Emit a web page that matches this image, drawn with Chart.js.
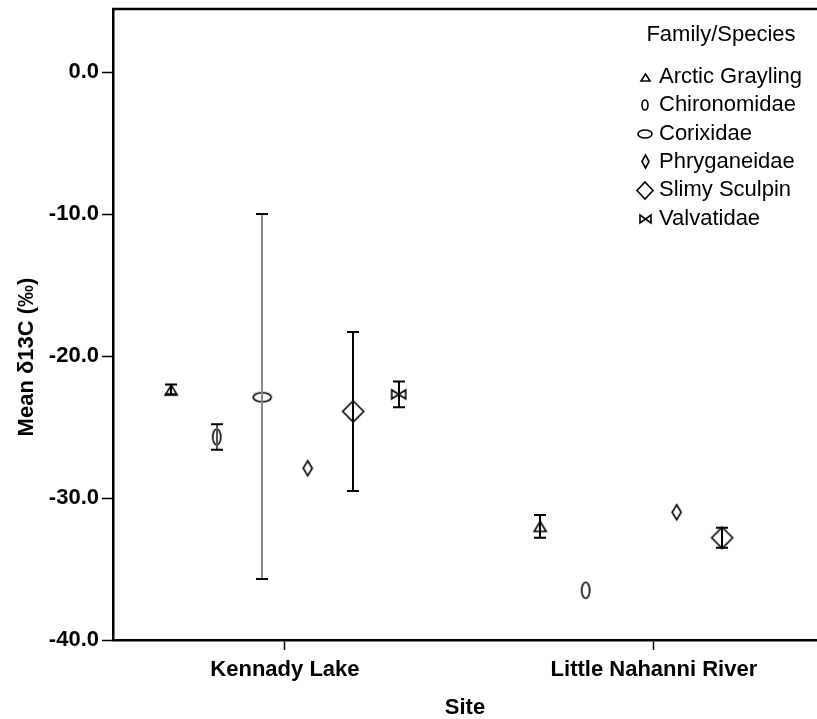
<!DOCTYPE html>
<html>
<head>
<meta charset="utf-8">
<title>Mean δ13C por local</title>
<script src="https://cdn.jsdelivr.net/npm/chart.js@4.4.1/dist/chart.umd.min.js"></script>
<style>
    body { margin: 0; background: #fff; }
    #grafico { display: block; background: #fff; }
</style>
</head>
<body>
<canvas id="grafico" width="817" height="719"></canvas>
<script>
/* ===== DADOS ===== */

const sites = ['Kennady Lake', 'Little Nahanni River'];
const species = ['Arctic Grayling', 'Chironomidae', 'Corixidae', 'Phryganeidae', 'Slimy Sculpin', 'Valvatidae'];

// média e IC 95% por espécie (null = sem amostra / sem barra)
const kennadyMean = [-22.4, -25.7, -22.9, -27.9, -23.9, -22.7];
const kennadyLow  = [-22.7, -26.6, -35.7, null, -29.5, -23.6];
const kennadyHigh = [-22.0, -24.8, -10.0, null, -18.3, -21.8];

const nahanniMean = [-32.0, -36.5, null, -31.0, -32.8, null];
const nahanniLow  = [-32.8, null, null, null, -33.5, null];
const nahanniHigh = [-31.2, null, null, null, -32.1, null];

const yTicks = [-40, -30, -20, -10, 0];
const yTitulo = 'Mean δ13C (‰)';

/* ===== ESTILO ===== */

const FONTE = "'Liberation Sans', Arial, sans-serif";
const formas = ['triangle', 'ellipse', 'ellipse', 'diamond', 'diamond', 'bowtie'];
const tamGrafico = [[12, 10], [8, 16], [18, 9], [9, 15], [21, 21], [14, 9]];
const tamLegenda = [[9, 7], [6, 10], [14, 8], [7, 13], [16, 17], [11, 8]];
const corHaste = ['#000', '#555', '#888', '#000', '#000', '#000'];
const deslocamento = 0.1233; // distância entre espécies dentro do mesmo local

function desenharForma(ctx, forma, w, h) {
    ctx.beginPath();
    if (forma === 'triangle') {
        ctx.moveTo(0, -h / 2);
        ctx.lineTo(w / 2, h / 2);
        ctx.lineTo(-w / 2, h / 2);
        ctx.closePath();
    } else if (forma === 'ellipse') {
        ctx.ellipse(0, 0, w / 2, h / 2, 0, 0, Math.PI * 2);
    } else if (forma === 'diamond') {
        ctx.moveTo(0, -h / 2);
        ctx.lineTo(w / 2, 0);
        ctx.lineTo(0, h / 2);
        ctx.lineTo(-w / 2, 0);
        ctx.closePath();
    } else if (forma === 'bowtie') {
        ctx.moveTo(-w / 2, -h / 2);
        ctx.lineTo(w / 2, h / 2);
        ctx.lineTo(w / 2, -h / 2);
        ctx.lineTo(-w / 2, h / 2);
        ctx.closePath();
    }
    ctx.stroke();
}

function criarMarcador(forma, w, h) {
    const c = document.createElement('canvas');
    c.width = Math.ceil(w) + 4;
    c.height = Math.ceil(h) + 4;
    const ctx = c.getContext('2d');
    ctx.translate(c.width / 2, c.height / 2);
    ctx.lineWidth = 1.6;
    ctx.strokeStyle = '#000';
    desenharForma(ctx, forma, w, h);
    return c;
}

const marcadores = formas.map((f, i) => criarMarcador(f, tamGrafico[i][0], tamGrafico[i][1]));
const marcadoresLegenda = formas.map((f, i) => criarMarcador(f, tamLegenda[i][0], tamLegenda[i][1]));

/* ===== DATASETS ===== */

const medias = [kennadyMean, nahanniMean];
const minimos = [kennadyLow, nahanniLow];
const maximos = [kennadyHigh, nahanniHigh];

const datasets = species.map((nome, i) => {
    const pontos = [];
    sites.forEach((_, s) => {
        if (medias[s][i] === null) return;
        pontos.push({
            x: s + (i - (species.length - 1) / 2) * deslocamento,
            y: medias[s][i],
            lo: minimos[s][i],
            hi: maximos[s][i]
        });
    });
    return {
        label: nome,
        data: pontos,
        pointStyle: marcadores[i],
        pointRadius: 8,
        showLine: false
    };
});

/* ===== PLUGINS ===== */

// linha superior da moldura + título do eixo Y
const moldura = {
    id: 'moldura',
    afterDraw(chart) {
        const { ctx, chartArea } = chart;
        ctx.save();
        ctx.strokeStyle = '#000';
        ctx.lineWidth = 2.5;
        ctx.beginPath();
        ctx.moveTo(chartArea.left - 1, chartArea.top);
        ctx.lineTo(chartArea.right, chartArea.top);
        ctx.stroke();

        ctx.translate(27, 357);
        ctx.rotate(-Math.PI / 2);
        ctx.fillStyle = '#000';
        ctx.font = `bold 22px ${FONTE}`;
        ctx.textAlign = 'center';
        ctx.textBaseline = 'middle';
        ctx.fillText(yTitulo, 0, 0);
        ctx.restore();
    }
};

// barras de erro (IC 95%)
const barrasErro = {
    id: 'barrasErro',
    afterDatasetsDraw(chart) {
        const { ctx } = chart;
        const escalaY = chart.scales.y;
        ctx.save();
        chart.data.datasets.forEach((ds, i) => {
            const meta = chart.getDatasetMeta(i);
            ds.data.forEach((p, j) => {
                if (p.lo === null || p.hi === null) return;
                const x = Math.round(meta.data[j].x);
                const yAlto = escalaY.getPixelForValue(p.hi);
                const yBaixo = escalaY.getPixelForValue(p.lo);
                ctx.lineWidth = 2;
                ctx.strokeStyle = corHaste[i];
                ctx.beginPath();
                ctx.moveTo(x, yAlto);
                ctx.lineTo(x, yBaixo);
                ctx.stroke();
                ctx.strokeStyle = '#000';
                ctx.beginPath();
                ctx.moveTo(x - 6, yAlto);
                ctx.lineTo(x + 6, yAlto);
                ctx.moveTo(x - 6, yBaixo);
                ctx.lineTo(x + 6, yBaixo);
                ctx.stroke();
            });
        });
        ctx.restore();
    }
};

// legenda dentro da área do gráfico
const legenda = {
    id: 'legenda',
    afterDraw(chart) {
        const { ctx } = chart;
        ctx.save();
        ctx.fillStyle = '#000';
        ctx.font = `22px ${FONTE}`;
        ctx.textBaseline = 'middle';
        ctx.textAlign = 'center';
        ctx.fillText('Family/Species', 721, 35);
        ctx.textAlign = 'left';
        species.forEach((nome, i) => {
            const y = 77 + i * 28.3;
            const m = marcadoresLegenda[i];
            ctx.drawImage(m, Math.round(645 - m.width / 2), Math.round(y - m.height / 2));
            ctx.fillText(nome, 659, y);
        });
        ctx.restore();
    }
};

/* ===== GRÁFICO ===== */

new Chart(document.getElementById('grafico'), {
    type: 'scatter',
    data: { datasets: datasets },
    options: {
        responsive: false,
        animation: false,
        layout: { autoPadding: false, padding: { top: 9, left: 0, right: 0, bottom: 0 } },
        plugins: {
            legend: { display: false },
            tooltip: { enabled: false }
        },
        scales: {
            x: {
                type: 'linear',
                min: -0.466,
                max: 1.442,
                afterBuildTicks: s => { s.ticks = sites.map((_, i) => ({ value: i })); },
                afterFit: s => { s.height = 79; s.paddingLeft = 0; s.paddingRight = 0; },
                ticks: {
                    callback: v => sites[v],
                    color: '#000',
                    padding: 7,
                    maxRotation: 0,
                    autoSkip: false,
                    font: { family: FONTE, size: 22, weight: 'bold', lineHeight: 1.2 }
                },
                grid: { drawOnChartArea: false, tickLength: 10, color: '#000', tickWidth: 1.5 },
                border: { color: '#000', width: 2.5 },
                title: {
                    display: true,
                    text: 'Site',
                    color: '#000',
                    padding: 0,
                    font: { family: FONTE, size: 22, weight: 'bold', lineHeight: 1 }
                }
            },
            y: {
                min: -40,
                max: 4.44,
                afterBuildTicks: s => { s.ticks = yTicks.map(v => ({ value: v })); },
                afterFit: s => { s.width = 113; s.paddingTop = 0; s.paddingBottom = 0; },
                ticks: {
                    callback: v => v.toFixed(1),
                    color: '#000',
                    padding: 3,
                    font: { family: FONTE, size: 22, weight: 'bold', lineHeight: 1.2 }
                },
                grid: { drawOnChartArea: false, tickLength: 11, color: '#000', tickWidth: 1.5 },
                border: { color: '#000', width: 2.5 }
            }
        }
    },
    plugins: [moldura, barrasErro, legenda]
});
</script>
</body>
</html>
